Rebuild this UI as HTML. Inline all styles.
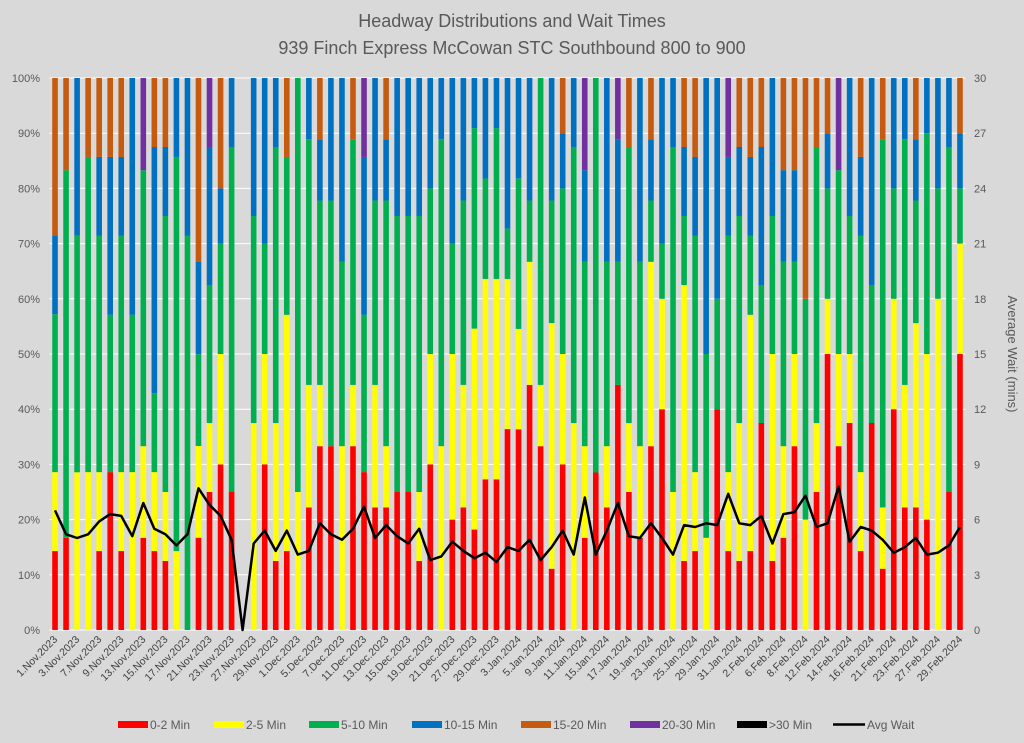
<!DOCTYPE html>
<html><head><meta charset="utf-8">
<style>
html,body{margin:0;padding:0;background:#d9d9d9;}
svg text{font-family:"Liberation Sans",sans-serif;}
</style></head>
<body>
<svg id="chart" width="1024" height="738" xmlns="http://www.w3.org/2000/svg">
<rect x="0" y="0" width="1024" height="738" fill="#d9d9d9"/>
<text x="512" y="27" text-anchor="middle" font-size="18" fill="#595959">Headway Distributions and Wait Times</text>
<text x="512" y="54" text-anchor="middle" font-size="18" fill="#595959">939 Finch Express  McCowan STC Southbound 800 to 900</text>
<g id="grid"></g><g id="bars"></g><g id="line"></g><g id="axes"></g><g id="legend"></g>
<text transform="translate(1008,354) rotate(90)" text-anchor="middle" font-size="13" fill="#595959">Average Wait (mins)</text>
</svg>
<script>
const dates = ["1.Nov","2.Nov","3.Nov","6.Nov","7.Nov","8.Nov","9.Nov","10.Nov","13.Nov","14.Nov","15.Nov","16.Nov","17.Nov","20.Nov","21.Nov","22.Nov","23.Nov","24.Nov","27.Nov","28.Nov","29.Nov","30.Nov",
"1.Dec","4.Dec","5.Dec","6.Dec","7.Dec","8.Dec","11.Dec","12.Dec","13.Dec","14.Dec","15.Dec","18.Dec","19.Dec","20.Dec","21.Dec","22.Dec","27.Dec","28.Dec","29.Dec",
"2.Jan","3.Jan","4.Jan","5.Jan","8.Jan","9.Jan","10.Jan","11.Jan","12.Jan","15.Jan","16.Jan","17.Jan","18.Jan","19.Jan","22.Jan","23.Jan","24.Jan","25.Jan","26.Jan","29.Jan","30.Jan","31.Jan",
"1.Feb","2.Feb","5.Feb","6.Feb","7.Feb","8.Feb","9.Feb","12.Feb","13.Feb","14.Feb","15.Feb","16.Feb","20.Feb","21.Feb","22.Feb","23.Feb","26.Feb","27.Feb","28.Feb","29.Feb"];
const years = dates.map((d,i)=> i<41 ? "2023" : "2024");
const min0_2 = [14.3,16.7,0,0,14.3,28.6,14.3,0,16.7,14.3,12.5,0,0,16.7,25,30,25,0,0,30,12.5,14.3,
0,22.2,33.3,33.3,0,33.3,28.6,22.2,22.2,25,25,12.5,30,0,20,22.2,18.2,27.3,27.3,
36.4,36.4,44.4,33.3,11.1,30,0,16.7,22.2,22.2,44.4,25,16.7,33.3,40,0,12.5,14.3,0,40,14.3,12.5,
14.3,37.5,12.5,16.7,33.3,0,25,50,33.3,37.5,14.3,37.5,11.1,40,22.2,22.2,20,0,25,50];
const min2_5 = [14.3,0,28.6,28.6,14.3,0,14.3,28.6,16.6,14.3,12.5,14.3,0,16.6,12.5,20,0,0,37.5,20,25,42.8,
25,22.2,11.1,0,33.3,11.1,0,22.2,11.1,0,0,12.5,20,33.3,30,22.2,36.4,36.3,36.3,
27.2,18.2,22.3,11.1,44.5,20,37.5,16.6,0,11.1,0,12.5,16.6,33.4,20,25,50,14.3,16.7,0,14.3,25,
42.8,0,37.5,16.6,16.7,20,12.5,10,16.7,12.5,14.3,0,11.1,20,22.2,33.4,30,60,0,20];
const min5_10 = [28.6,66.6,42.9,57.1,42.8,28.5,42.8,28.5,50,14.3,50,71.4,71.4,16.6,25,20,62.5,0,37.5,20,50,28.6,
75,44.5,33.4,44.5,33.4,44.5,28.5,33.4,44.5,50,50,50,30,55.6,20,33.4,36.3,18.2,27.3,
9.1,27.3,11.1,55.6,22.2,30,50,33.4,55.6,33.4,22.3,50,33.4,11.1,10,62.5,12.5,42.8,33.3,20,42.8,37.5,
14.3,25,25,33.4,16.7,40,50,20,33.3,25,42.8,25,66.7,20,44.5,22.2,40,20,62.5,10];
const min10_15 = [14.3,0,28.6,0,14.3,28.6,14.3,42.9,0,44.6,12.5,14.3,28.6,16.7,25,10,12.5,0,25,30,12.5,0,
0,11.1,11.1,22.2,33.3,0,28.6,22.2,11.1,25,25,25,20,11.1,30,22.2,9.1,18.2,9.1,
27.3,18.2,22.2,0,22.2,10,12.5,16.6,0,33.3,22.2,0,33.3,11.1,30,12.5,12.5,14.3,50,40,14.3,12.5,
14.3,25,25,16.6,16.6,0,0,10,0,25,14.3,37.5,0,20,11.1,11.1,10,20,12.5,10];
const min15_20 = [28.5,16.7,0,14.3,14.3,14.3,14.3,0,0,12.5,12.5,0,0,33.3,0,20,0,0,0,0,0,14.3,
0,0,11.1,0,0,11.1,0,0,11.1,0,0,0,0,0,0,0,0,0,0,
0,0,0,0,0,10,0,0,0,0,0,12.5,0,11.1,0,0,12.5,14.3,0,0,0,12.5,
14.3,12.5,0,16.7,16.7,40,12.5,10,0,0,14.3,0,11.1,0,0,11.1,0,0,0,10];
const min20_30 = [0,0,0,0,0,0,0,0,16.7,0,0,0,0,0,12.5,0,0,0,0,0,0,0,
0,0,0,0,0,0,14.3,0,0,0,0,0,0,0,0,0,0,0,0,
0,0,0,0,0,0,0,16.7,0,0,11.1,0,0,0,0,0,0,0,0,0,14.3,0,
0,0,0,0,0,0,0,0,16.7,0,0,0,0,0,0,0,0,0,0,0];
const min30plus = new Array(83).fill(0);
const avgWait = [6.5,5.2,5.0,5.2,5.9,6.3,6.2,5.1,6.9,5.5,5.2,4.6,5.2,7.7,6.8,6.2,4.9,0,4.7,5.4,4.3,5.4,
4.1,4.3,5.8,5.2,4.9,5.5,6.7,5.0,5.7,5.1,4.7,5.5,3.8,4.0,4.8,4.3,3.9,4.2,3.7,
4.5,4.3,4.9,3.8,4.5,5.4,4.1,7.2,4.1,5.4,6.9,5.1,5.0,5.8,5.0,4.1,5.7,5.6,5.8,5.7,7.4,5.8,
5.7,6.2,4.7,6.3,6.4,7.3,5.6,5.8,7.8,4.8,5.6,5.4,4.9,4.2,4.5,5.0,4.1,4.2,4.6,5.6];
const pctTicks = [0,10,20,30,40,50,60,70,80,90,100];
const waitTicks = [0,3,6,9,12,15,18,21,24,27,30];
const seriesNames = ["0-2 Min","2-5 Min","5-10 Min","10-15 Min","15-20 Min","20-30 Min",">30 Min"];

const NS="http://www.w3.org/2000/svg";
const colors=["#ff0000","#ffff00","#00b050","#0070c0","#c55a11","#7030a0","#000000"];
const L=49.5,R=965.5,T=78,B=630;
const n=dates.length, step=(R-L)/n, bw=5.6;
const xC=i=>L+step*(i+0.5);
const yP=v=>B-(B-T)*v/100;
const yW=v=>B-(B-T)*v/30;
function mk(tag,attrs,parent){const e=document.createElementNS(NS,tag);for(const k in attrs)e.setAttribute(k,attrs[k]);parent.appendChild(e);return e;}
const grid=document.getElementById('grid'),axes=document.getElementById('axes');
pctTicks.forEach(t=>{
  const g=mk('line',{x1:L,x2:R,y1:yP(t),y2:yP(t),stroke:'#ffffff','stroke-width':1},grid);
  
  
  const tx=mk('text',{x:40,y:yP(t)+4,'text-anchor':'end','font-size':11,fill:'#595959'},axes);
  tx.textContent=t+'%';
  
  
});
waitTicks.forEach(t=>{
  const tx=mk('text',{x:974,y:yW(t)+4,'text-anchor':'start','font-size':11,fill:'#595959'},axes);
  tx.textContent=t;
  
  
});
const series=[min0_2,min2_5,min5_10,min10_15,min15_20,min20_30,min30plus];
const bars=document.getElementById('bars');
for(let i=0;i<n;i++){
  const total=series.reduce((a,s)=>a+s[i],0);
  let acc=0;
  if(total>0) series.forEach((s,k)=>{
    const v=s[i]/total*100; if(v<=0) return;
    const r=mk('rect',{x:xC(i)-bw/2,y:yP(acc+v),width:bw,height:yP(acc)-yP(acc+v),fill:colors[k]},bars);
    
    
    acc+=v;
  });
  if(i%2===0){
    const tx=mk('text',{transform:`translate(${xC(i)+3},${B+10}) rotate(-45)`,'text-anchor':'end','font-size':10.5,fill:'#404040'},axes);
    tx.textContent=dates[i]+'.'+years[i];
    
    
  }
}
const pts=avgWait.map((v,i)=>xC(i).toFixed(1)+','+yW(v).toFixed(1)).join(' ');
const pl=mk('polyline',{points:pts,fill:'none',stroke:'#000','stroke-width':2.5,'stroke-linejoin':'round'},document.getElementById('line'));


const leg=document.getElementById('legend');
const legX=[118,214,309,412,521,630,737];
seriesNames.forEach((nm,k)=>{
  const g=mk('g',{},leg);
  
  
  mk('rect',{x:legX[k],y:721,width:30,height:7,fill:colors[k]},g);
  const tx=mk('text',{x:legX[k]+32,y:729,'font-size':12,fill:'#595959'},g);
  tx.textContent=nm;
});
const g2=mk('g',{},leg);


mk('line',{x1:833,x2:865,y1:724.5,y2:724.5,stroke:'#000','stroke-width':2.5},g2);
const t2=mk('text',{x:867,y:729,'font-size':12,fill:'#595959'},g2);
t2.textContent='Avg Wait';
</script>
</body></html>
